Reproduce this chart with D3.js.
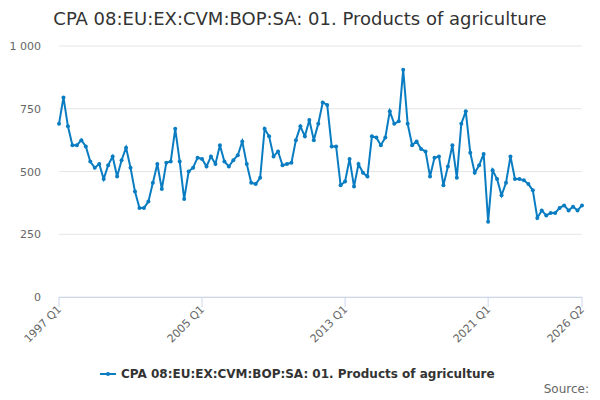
<!DOCTYPE html>
<html><head><meta charset="utf-8">
<script src="https://cdn.jsdelivr.net/npm/d3@7"></script>
<style>body{margin:0;font-family:"DejaVu Sans",sans-serif;background:#fff}</style>
</head><body><svg id="chart" width="600" height="400"></svg>
<script>
const startYear = 1997;
const values = [
  690, 795, 680, 605,
  605, 625, 600, 540,
  515, 530, 470, 525,
  560, 480, 545, 595,
  515, 420, 355, 355,
  380, 455, 530, 430,
  535, 540, 670, 540,
  390, 500, 515, 555,
  550, 520, 560, 530,
  605, 540, 520, 545,
  565, 620, 530, 455,
  450, 475, 670, 640,
  560, 580, 525, 530,
  535, 625, 680, 640,
  705, 625, 690, 775,
  765, 600, 600, 445,
  460, 550, 440, 530,
  495, 480, 640, 635,
  605, 635, 740, 690,
  700, 905, 690, 605,
  620, 590, 580, 480,
  555, 560, 445, 520,
  605, 475, 690, 740,
  575, 495, 525, 570,
  300, 505, 470, 405,
  455, 560, 470, 470,
  465, 450, 425, 315,
  345, 325, 335, 335,
  355, 365, 345, 360,
  345, 365
];
const labels = values.map((v, i) => (startYear + Math.floor(i / 4)) + ' Q' + (i % 4 + 1));
const tickLabels = ['1997 Q1', '2005 Q1', '2013 Q1', '2021 Q1', '2026 Q2'];
const yTicks = [0, 250, 500, 750, 1000];
const title = 'CPA 08:EU:EX:CVM:BOP:SA: 01. Products of agriculture';

const svg = d3.select('#chart');
const color = '#0a7dc2';
const x = d3.scaleLinear().domain([0, values.length - 1]).range([59, 582]);
const y = d3.scaleLinear().domain([0, 1000]).range([297, 46]);

svg.append('text').attr('x', 300).attr('y', 25).attr('text-anchor', 'middle')
  .attr('font-size', 18).attr('fill', '#333').text(title);

svg.append('g').selectAll('line').data(yTicks).join('line')
  .attr('x1', 59).attr('x2', 582).attr('y1', d => y(d)).attr('y2', d => y(d))
  .attr('stroke', '#e6e6e6');
svg.append('g').selectAll('text').data(yTicks).join('text')
  .attr('x', 41).attr('y', d => y(d) + 4).attr('text-anchor', 'end')
  .attr('font-size', 11).attr('fill', '#666')
  .text(d => d3.format(',')(d).replace(',', ' '));

svg.append('line').attr('x1', 59).attr('x2', 582).attr('y1', 297.5).attr('y2', 297.5).attr('stroke', '#ccd6eb');
const tickIdx = tickLabels.map(t => labels.indexOf(t));
svg.append('g').selectAll('line').data(tickIdx).join('line')
  .attr('x1', d => x(d)).attr('x2', d => x(d)).attr('y1', 297).attr('y2', 307).attr('stroke', '#ccd6eb');
svg.append('g').selectAll('text').data(tickIdx).join('text')
  .attr('transform', d => `translate(${x(d) + 3},${310}) rotate(-45)`)
  .attr('text-anchor', 'end').attr('font-size', 11).attr('fill', '#666')
  .text(d => labels[d]);

svg.append('path').datum(values)
  .attr('d', d3.line().x((d, i) => x(i)).y(d => y(d)))
  .attr('fill', 'none').attr('stroke', color).attr('stroke-width', 2);
svg.append('g').selectAll('circle').data(values).join('circle')
  .attr('cx', (d, i) => x(i)).attr('cy', d => y(d)).attr('r', 2).attr('fill', color);

const lg = svg.append('g').attr('transform', 'translate(100,374)');
lg.append('line').attr('x1', 0).attr('x2', 16).attr('stroke', color).attr('stroke-width', 2);
lg.append('circle').attr('cx', 8).attr('r', 2).attr('fill', color);
lg.append('text').attr('x', 21).attr('y', 4).attr('font-size', 12).attr('font-weight', 'bold')
  .attr('fill', '#333').text(title);

svg.append('text').attr('x', 589).attr('y', 393).attr('text-anchor', 'end')
  .attr('font-size', 12).attr('fill', '#666').text('Source:');
</script></body></html>
